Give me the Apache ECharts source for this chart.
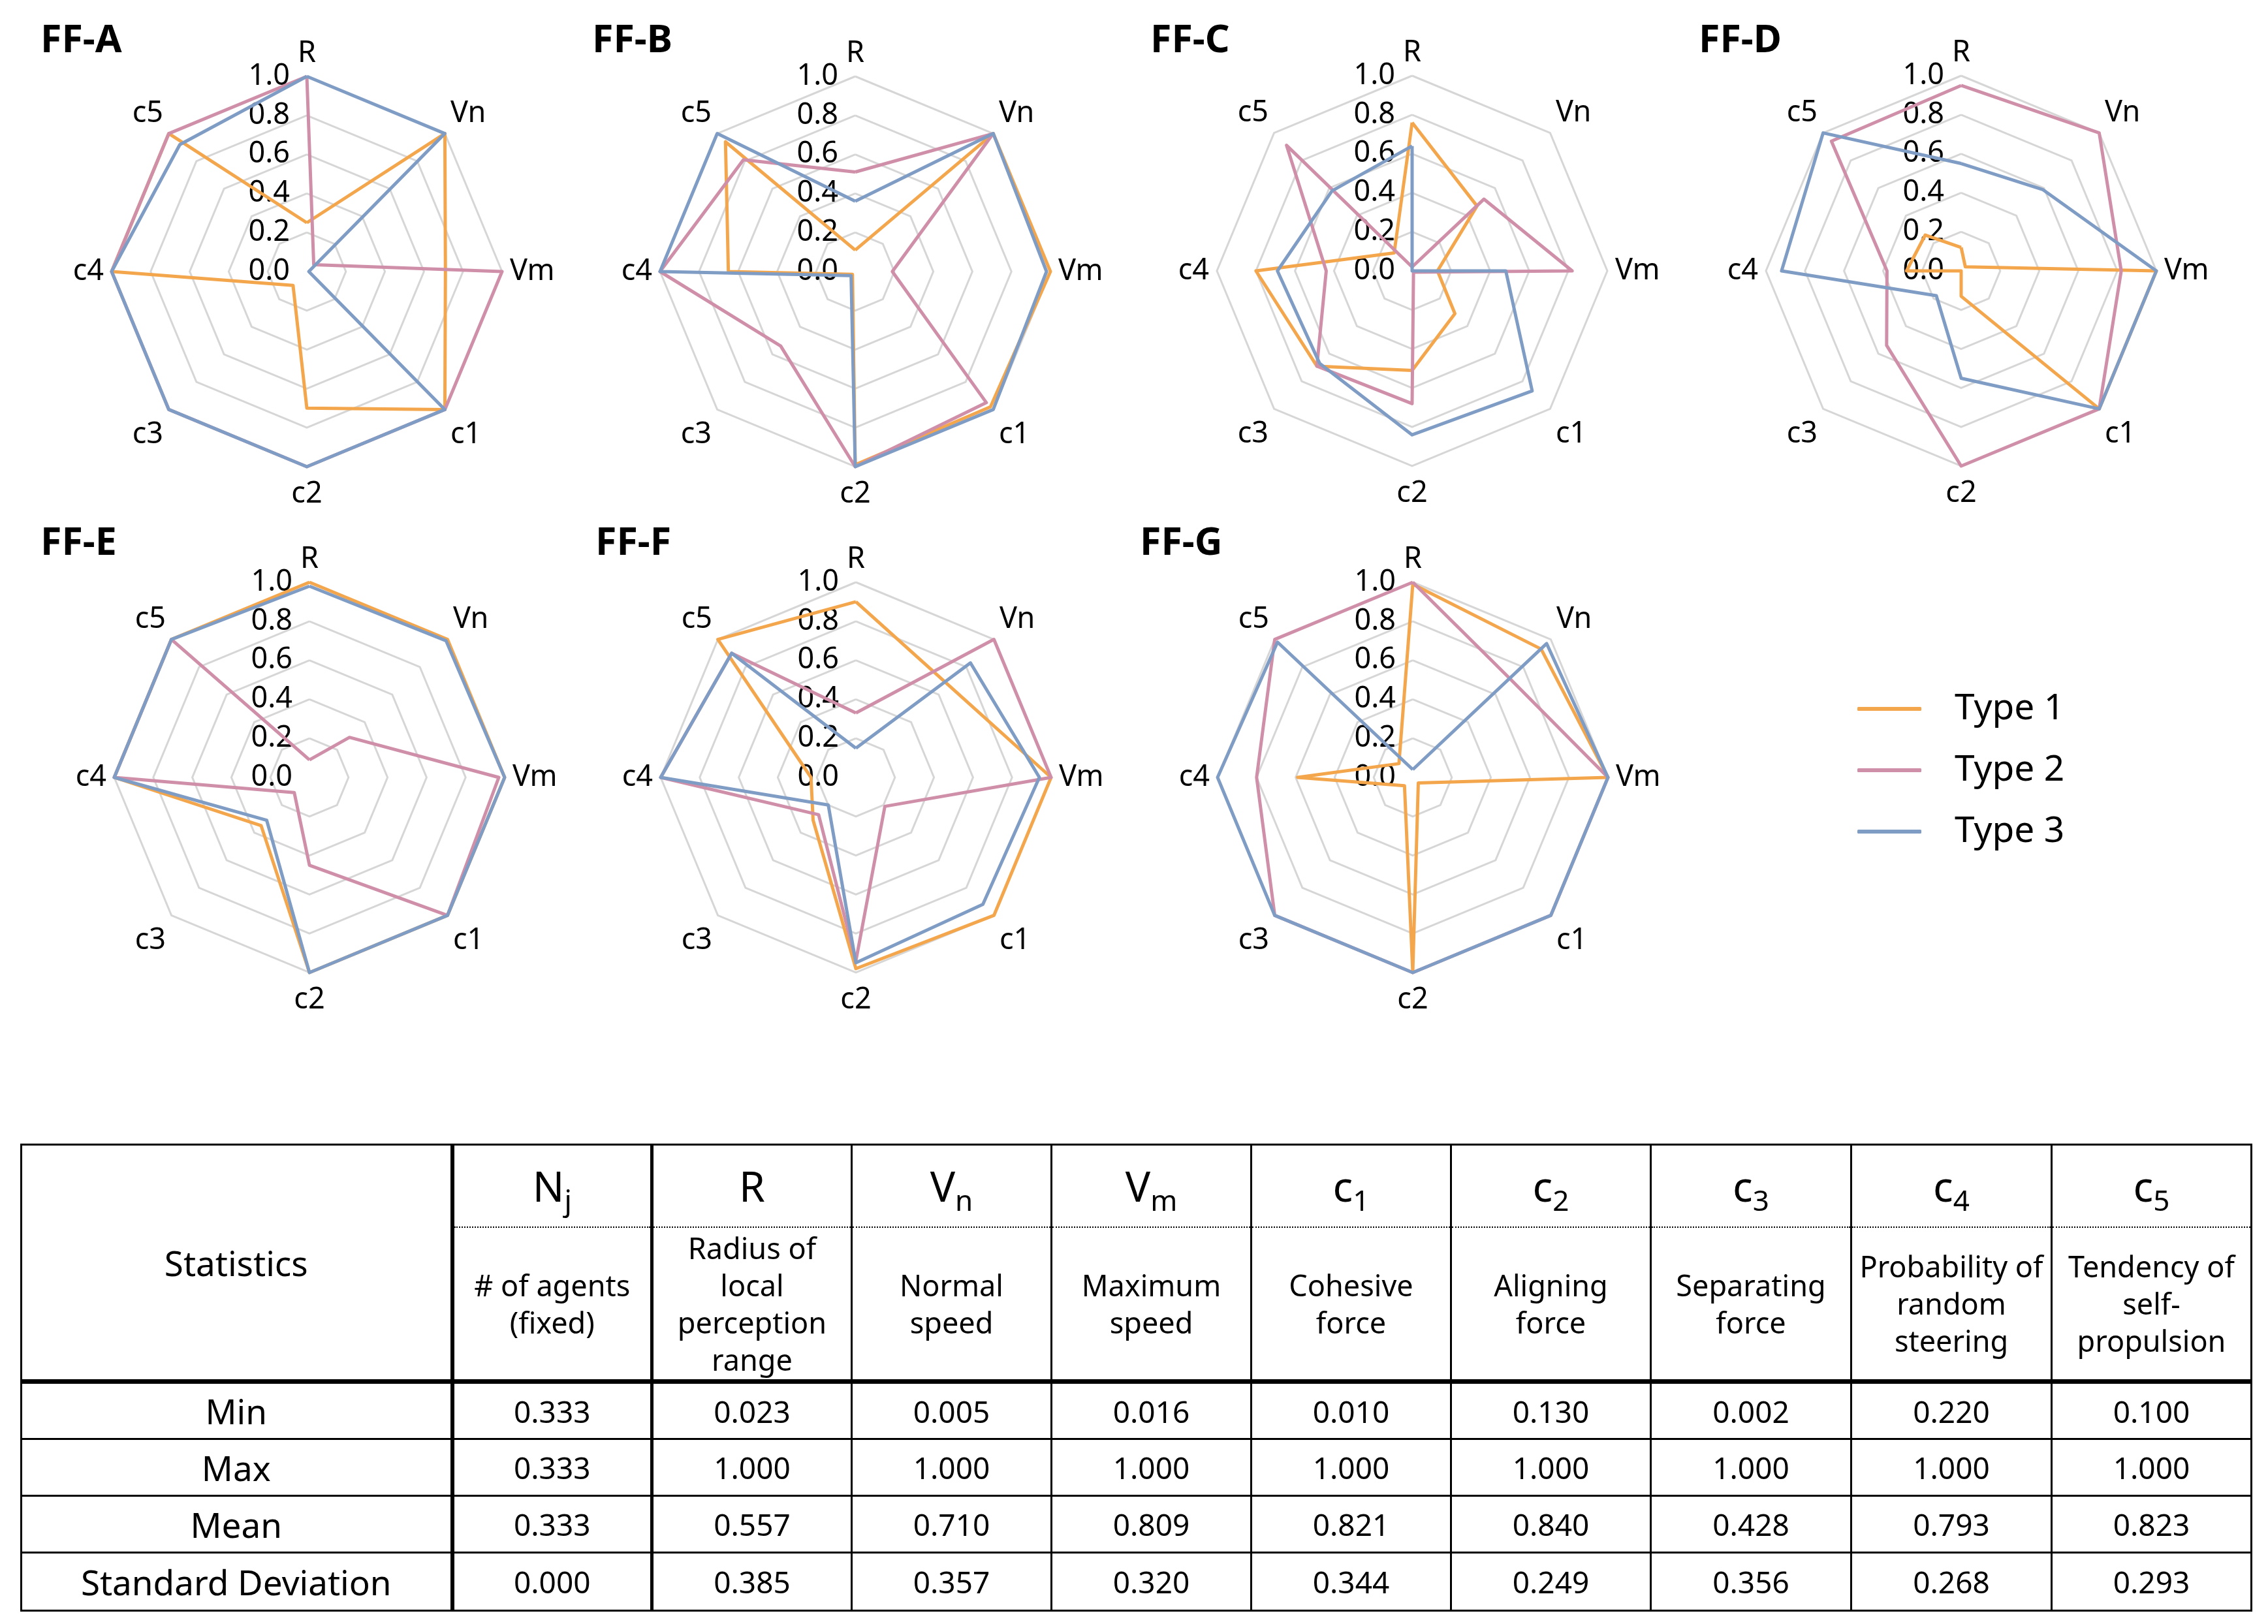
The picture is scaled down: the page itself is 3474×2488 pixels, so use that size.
<!DOCTYPE html>
<html><head><meta charset="utf-8">
<script src="https://cdn.jsdelivr.net/npm/echarts@6/dist/echarts.min.js"></script>
<style>
html,body{margin:0;padding:0;background:#fff;}
#chart{position:absolute;left:0;top:0;width:3474px;height:2488px;}
#tbl{position:absolute;left:31px;top:1752px;border-collapse:collapse;table-layout:fixed;font-family:'Noto Sans',sans-serif;color:#000;}
#tbl td{padding:0;text-align:center;vertical-align:middle;white-space:nowrap;border:3px solid #000;}
#tbl .sym{font-size:64px;line-height:66px;border-bottom:2px dotted #000;}
#tbl .sym sub{font-size:44px;vertical-align:-14px;line-height:0;}
#tbl .desc{font-size:45px;line-height:57px;border-top:2px dotted #000;border-bottom:7px solid #000;}
#tbl .lab{font-size:53px;}
#tbl .val{font-size:46px;}
</style></head><body>
<div id="chart"></div>
<table id="tbl"></table>
<script>
// ---------- data ----------
const axisNames = ['R','Vn','Vm','c1','c2','c3','c4','c5'];
const panelNames = ['FF-A','FF-B','FF-C','FF-D','FF-E','FF-F','FF-G'];
const typeNames = ['Type 1','Type 2','Type 3'];
const tickLabels = ['0.0','0.2','0.4','0.6','0.8','1.0'];
// values per panel: rows = Type 1, Type 2, Type 3; columns follow axisNames
const ffA = [
  [0.25,1.00,0.71,1.00,0.70,0.10,1.00,1.00],
  [1.00,0.05,1.00,1.00,1.00,1.00,1.00,1.00],
  [1.00,1.00,0.01,1.00,1.00,1.00,1.00,0.92]
];
const ffB = [
  [0.11,1.00,1.00,0.98,0.99,0.02,0.65,0.94],
  [0.51,1.00,0.19,0.95,1.00,0.54,1.00,0.81],
  [0.36,1.00,0.98,1.00,1.00,0.03,1.00,1.00]
];
const ffC = [
  [0.76,0.47,0.13,0.31,0.51,0.69,0.80,0.13],
  [0.02,0.52,0.82,0.01,0.68,0.69,0.44,0.91],
  [0.64,0.00,0.48,0.87,0.84,0.67,0.69,0.58]
];
const ffD = [
  [0.12,0.03,1.00,1.00,0.13,0.00,0.28,0.26],
  [0.95,1.00,0.82,1.00,1.00,0.54,0.38,0.94],
  [0.55,0.59,1.00,1.00,0.55,0.18,0.92,1.00]
];
const ffE = [
  [1.00,1.00,1.00,1.00,1.00,0.35,1.00,1.00],
  [0.09,0.29,0.97,1.00,0.45,0.11,1.00,1.00],
  [0.98,0.99,1.00,1.00,1.00,0.31,1.00,1.00]
];
const ffF = [
  [0.90,0.67,1.00,1.00,0.98,0.31,0.23,1.00],
  [0.33,1.00,1.00,0.21,0.94,0.27,1.00,0.90],
  [0.15,0.83,0.94,0.92,0.95,0.20,1.00,0.90]
];
const ffG = [
  [0.99,0.93,1.00,0.04,1.00,0.06,0.59,0.10],
  [1.00,0.71,1.00,1.00,1.00,1.00,0.80,1.00],
  [0.04,0.97,1.00,1.00,1.00,1.00,1.00,0.98]
];
const panelData = [ffA,ffB,ffC,ffD,ffE,ffF,ffG];

// table
const statRows = ['Min','Max','Mean','Standard Deviation'];
const colSym = ['N','R','V','V','c','c','c','c','c'];
const colSub = ['j','','n','m','1','2','3','4','5'];
const colDesc = ['# of agents\n(fixed)','Radius of\nlocal\nperception\nrange','Normal\nspeed','Maximum\nspeed','Cohesive\nforce','Aligning\nforce','Separating\nforce','Probability of\nrandom\nsteering','Tendency of\nself-\npropulsion'];
const minRow  = ['0.333','0.023','0.005','0.016','0.010','0.130','0.002','0.220','0.100'];
const maxRow  = ['0.333','1.000','1.000','1.000','1.000','1.000','1.000','1.000','1.000'];
const meanRow = ['0.333','0.557','0.710','0.809','0.821','0.840','0.428','0.793','0.823'];
const sdRow   = ['0.000','0.385','0.357','0.320','0.344','0.249','0.356','0.268','0.293'];

// ---------- layout / style ----------
const FONT = "'Noto Sans', sans-serif";
const colors = ['#F4A64C','#D08FA8','#7F9CC4'];
const centers = [[470,416],[1310,416],[2163,415],[3004,415],[474,1191],[1311,1191],[2164,1191]];
const titlePos = [[62,31],[907,31],[1762,31],[2602,31],[62,801],[912,801],[1746,801]];
const RADIUS = 299;
const NAME_FS = 45;
// ECharts places indicators counter-clockwise; reference is clockwise from top
const ccwOrder = [0,7,6,5,4,3,2,1];
// label placement class for each axis name (upper diagonal / lower diagonal / bottom / plain)
const nameClass = {R:'n', Vn:'ud', c5:'ud', c1:'ld', c3:'ld', c2:'bot', Vm:'n', c4:'n'};

const chart = echarts.init(document.getElementById('chart'), null, {renderer:'canvas'});

const nameRich = {
  n:   {fontSize:NAME_FS, fontFamily:FONT, color:'#000'},
  ud:  {fontSize:NAME_FS, fontFamily:FONT, color:'#000', padding:[0,0,44,0]},
  ld:  {fontSize:NAME_FS, fontFamily:FONT, color:'#000', padding:[60,0,0,0]},
  bot: {fontSize:NAME_FS, fontFamily:FONT, color:'#000', padding:[8,0,0,0]}
};

const radars = centers.map(c => ({
  center: c,
  radius: RADIUS,
  startAngle: 90,
  shape: 'polygon',
  splitNumber: 5,
  nameGap: 12,
  axisName: {color:'#000', fontSize:NAME_FS, fontFamily:FONT,
    formatter: nm => '{' + nameClass[nm] + '|' + nm + '}', rich: nameRich},
  indicator: ccwOrder.map((k, j) => {
    const ind = {name: axisNames[k], min: 0, max: 1};
    if (j === 0) {
      ind.axisLabel = {show: true, color:'#000', fontSize:45, fontFamily:FONT, margin: 26,
        formatter: v => tickLabels[Math.round(v*5)]};
    }
    return ind;
  }),
  splitLine: {lineStyle: {color:'#D6D6D6', width:3}},
  splitArea: {show:false},
  axisLine: {show:false},
  axisTick: {show:false},
  axisLabel: {show:false}
}));

const series = panelData.map((pd, i) => ({
  type: 'radar',
  radarIndex: i,
  symbol: 'none',
  z: 2,
  data: pd.map((vals, t) => ({
    name: typeNames[t],
    value: ccwOrder.map(k => vals[k]),
    lineStyle: {color: colors[t], width: 5},
    itemStyle: {color: colors[t]}
  }))
}));

chart.setOption({
  backgroundColor: '#fff',
  animation: false,
  color: colors,
  title: panelNames.map((n, i) => ({
    text: n, left: titlePos[i][0], top: titlePos[i][1], padding: 0,
    textStyle: {fontSize: 59, fontWeight: 'bold', fontFamily: FONT, color: '#000', lineHeight: 64}
  })),
  legend: {
    data: typeNames.map((n, t) => ({name: n, itemStyle: {color: colors[t]}})),
    orient: 'vertical',
    left: 2840, top: 1051,
    itemWidth: 98, itemHeight: 6, itemGap: 34,
    icon: 'roundRect',
    selectedMode: false,
    textStyle: {fontSize: 55, fontFamily: FONT, color: '#000', lineHeight: 60, padding: [0,0,0,46]}
  },
  radar: radars,
  series: series
});

// ---------- table ----------
const tbl = document.getElementById('tbl');
const colW = [660,306,306,306,306,306,306,307,307,306];
const cg = document.createElement('colgroup');
colW.forEach(w => { const c = document.createElement('col'); c.style.width = w + 'px'; cg.appendChild(c); });
tbl.appendChild(cg);
function vBorder(ci, td) {
  if (ci === 0) td.style.borderRightWidth = '6px';
  if (ci === 1) { td.style.borderLeftWidth = '6px'; td.style.borderRightWidth = '5px'; }
  if (ci === 2) td.style.borderLeftWidth = '5px';
}
// header row 1
let tr = document.createElement('tr'); tr.style.height = '126px';
let td = document.createElement('td'); td.rowSpan = 2; td.className = 'lab'; td.textContent = 'Statistics';
td.style.borderBottom = '7px solid #000'; vBorder(0, td); tr.appendChild(td);
colSym.forEach((s, i) => {
  const c = document.createElement('td'); c.className = 'sym';
  c.appendChild(document.createTextNode(s));
  if (colSub[i]) { const sb = document.createElement('sub'); sb.textContent = colSub[i]; c.appendChild(sb); }
  vBorder(i+1, c); tr.appendChild(c);
});
tbl.appendChild(tr);
// header row 2
tr = document.createElement('tr'); tr.style.height = '237px';
colDesc.forEach((d, i) => {
  const c = document.createElement('td'); c.className = 'desc';
  d.split('\n').forEach((ln, k) => { if (k) c.appendChild(document.createElement('br')); c.appendChild(document.createTextNode(ln)); });
  vBorder(i+1, c); tr.appendChild(c);
});
tbl.appendChild(tr);
const rowsVals = [minRow, maxRow, meanRow, sdRow];
const rowH = [88,87,87,89];
rowsVals.forEach((rv, r) => {
  const t = document.createElement('tr'); t.style.height = rowH[r] + 'px';
  const l = document.createElement('td'); l.className = 'lab'; l.textContent = statRows[r]; vBorder(0, l); t.appendChild(l);
  rv.forEach((v, i) => { const c = document.createElement('td'); c.className = 'val'; c.textContent = v; vBorder(i+1, c); t.appendChild(c); });
  tbl.appendChild(t);
});
</script>
</body></html>
